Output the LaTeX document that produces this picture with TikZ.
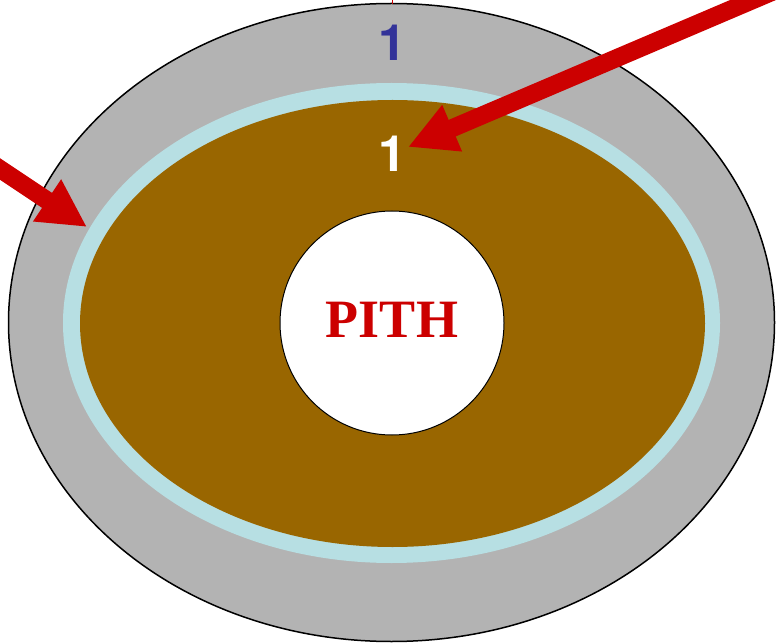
\documentclass[tikz,border=0pt]{standalone}
\usepackage{fontspec}
\setmainfont{Liberation Serif}
\newfontfamily\myarialfont{TeX Gyre Heros}
\usetikzlibrary{arrows.meta}
\definecolor{ringgray}{HTML}{B3B3B3}
\definecolor{ringblue}{HTML}{B7DFE3}
\definecolor{woodbrown}{HTML}{996600}
\definecolor{arrowred}{HTML}{CC0000}
\definecolor{numblue}{HTML}{333399}
\begin{document}
\begin{tikzpicture}[x=1pt,y=-1pt,
  redarrow/.style={draw=arrowred, line width=18pt, -{Triangle[length=48pt,width=47pt]}},
  numlabel/.style={font=\myarialfont\bfseries\fontsize{50}{50}\selectfont, anchor=base, inner sep=0pt}]
\useasboundingbox (0,0) rectangle (776,644);
\clip (0,0) rectangle (776,644);
\filldraw[fill=ringgray, draw=black, line width=1.5pt] (391.5,322.5) ellipse [x radius=383, y radius=319];
\fill[ringblue] (391.5,323) ellipse [x radius=328.5, y radius=240];
\fill[woodbrown] (392.5,323.5) ellipse [x radius=312.5, y radius=223.5];
\node[circle, draw=black, fill=white, line width=1pt, minimum size=224pt, inner sep=0pt] (pith) at (392,323) {};
\node[anchor=base, inner sep=0pt, text=arrowred, font=\bfseries\fontsize{54}{54}\selectfont] (pithlabel) at (392,337) {PITH};
\node[numlabel, text=numblue] (outerone) at (392,61) {1};
\node[numlabel, text=white] (innerone) at (392,172) {1};
\coordinate (a1s) at (800,-20);
\coordinate (a1t) at (408,147);
\coordinate (a2s) at (-30,149);
\coordinate (a2t) at (87,227);
\draw[redarrow] (a1s) -- (a1t);
\draw[redarrow] (a2s) -- (a2t);
\coordinate (ticka) at (392,-1);
\coordinate (tickb) at (392,4);
\draw[arrowred, line width=1pt] (ticka) -- (tickb);
\end{tikzpicture}
\end{document}
